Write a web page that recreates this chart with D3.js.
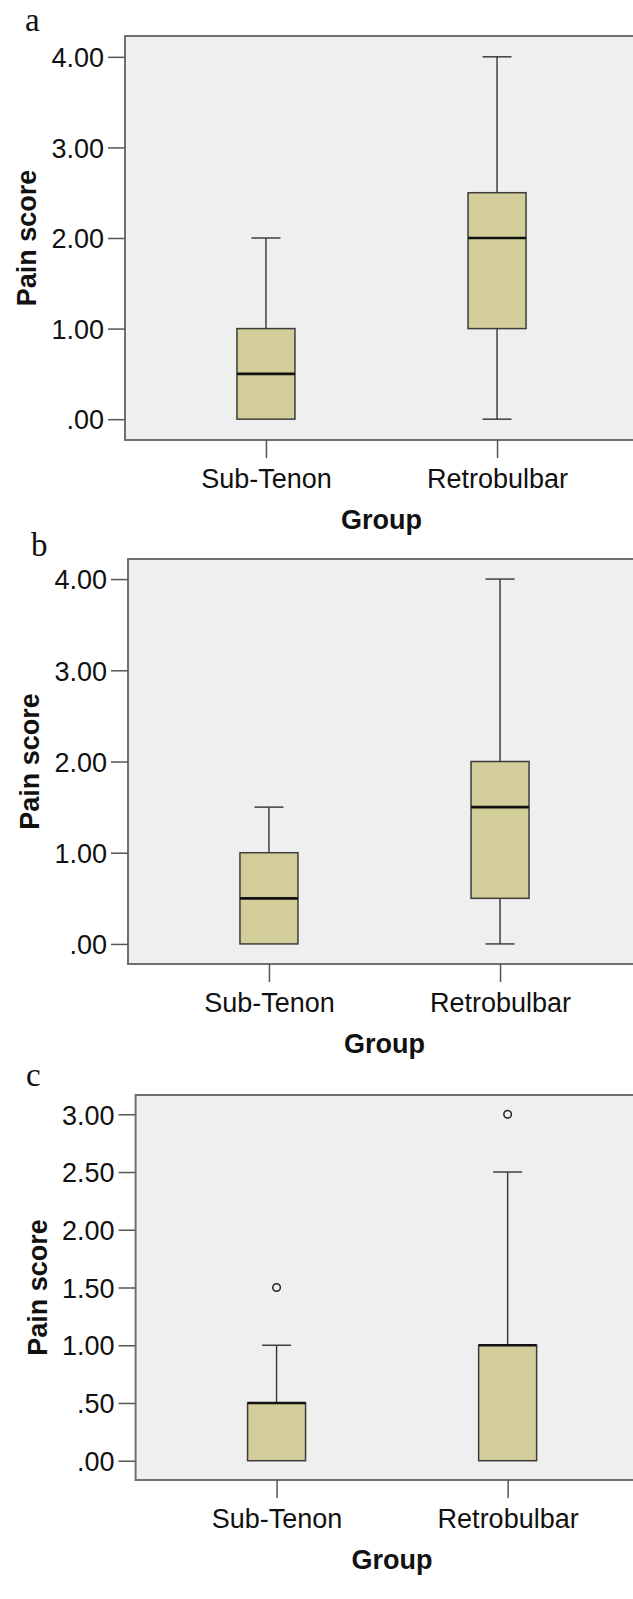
<!DOCTYPE html>
<html>
<head>
<meta charset="utf-8">
<script src="https://cdn.jsdelivr.net/npm/d3@7"></script>
<style>
  html, body { margin: 0; padding: 0; background: #ffffff; }
  svg { display: block; }
</style>
</head>
<body>
<svg id="chart" width="633" height="1599"></svg>
<script>
// ---------- DATA ----------
const categories = ["Sub-Tenon", "Retrobulbar"];

// Panel a
const aWhiskerLow  = [0, 0];
const aQ1          = [0, 1];
const aMedian      = [0.5, 2];
const aQ3          = [1, 2.5];
const aWhiskerHigh = [2, 4];
const aOutliers    = [[], []];
const aTickValues  = [0, 1, 2, 3, 4];
const aTickLabels  = [".00", "1.00", "2.00", "3.00", "4.00"];

// Panel b
const bWhiskerLow  = [0, 0];
const bQ1          = [0, 0.5];
const bMedian      = [0.5, 1.5];
const bQ3          = [1, 2];
const bWhiskerHigh = [1.5, 4];
const bOutliers    = [[], []];
const bTickValues  = [0, 1, 2, 3, 4];
const bTickLabels  = [".00", "1.00", "2.00", "3.00", "4.00"];

// Panel c
const cWhiskerLow  = [0, 0];
const cQ1          = [0, 0];
const cMedian      = [0.5, 1];
const cQ3          = [0.5, 1];
const cWhiskerHigh = [1, 2.5];
const cOutliers    = [[1.5], [3]];
const cTickValues  = [0, 0.5, 1, 1.5, 2, 2.5, 3];
const cTickLabels  = [".00", ".50", "1.00", "1.50", "2.00", "2.50", "3.00"];

const panelLetters = ["a", "b", "c"];
const yTitle = "Pain score";
const xTitle = "Group";

// ---------- LAYOUT ----------
const panels = [
  { letter: panelLetters[0], lo: aWhiskerLow, q1: aQ1, med: aMedian, q3: aQ3, hi: aWhiskerHigh, out: aOutliers,
    ticks: aTickValues, labels: aTickLabels, domain: [-0.23, 4.23],
    left: 125, top: 36, bottom: 440, letterX: 25, letterY: 31 },
  { letter: panelLetters[1], lo: bWhiskerLow, q1: bQ1, med: bMedian, q3: bQ3, hi: bWhiskerHigh, out: bOutliers,
    ticks: bTickValues, labels: bTickLabels, domain: [-0.22, 4.22],
    left: 128, top: 559, bottom: 964, letterX: 31, letterY: 556 },
  { letter: panelLetters[2], lo: cWhiskerLow, q1: cQ1, med: cMedian, q3: cQ3, hi: cWhiskerHigh, out: cOutliers,
    ticks: cTickValues, labels: cTickLabels, domain: [-0.167, 3.167],
    left: 135.6, top: 1095, bottom: 1480, letterX: 26, letterY: 1086 }
];

const svg = d3.select("#chart");
const FONT = "'Liberation Sans', Arial, Helvetica, sans-serif";
const SERIF = "'Liberation Serif', 'Times New Roman', serif";
const BOX_W = 58;
const CAP_W = 29;

panels.forEach(p => {
  const g = svg.append("g");
  const x = d3.scalePoint().domain(categories).range([p.left, p.left + 513]).padding(0.61);
  const y = d3.scaleLinear().domain(p.domain).range([p.bottom, p.top]);

  // plot background + frame
  g.append("rect")
    .attr("x", p.left).attr("y", p.top)
    .attr("width", 640 - p.left).attr("height", p.bottom - p.top)
    .attr("fill", "#efefef")
    .attr("stroke", "#707070").attr("stroke-width", 2);

  // y axis
  const yAxis = d3.axisLeft(y).tickValues(p.ticks)
    .tickFormat((d, i) => p.labels[i]).tickSize(17).tickPadding(4);
  const ya = g.append("g").attr("transform", `translate(${p.left},0)`).call(yAxis);
  ya.select(".domain").remove();
  ya.selectAll(".tick line").attr("stroke", "#555").attr("stroke-width", 1.5);
  ya.selectAll(".tick text").attr("font-family", FONT).attr("font-size", 27)
    .attr("fill", "#111").attr("dy", "0.36em");

  // x axis
  const xAxis = d3.axisBottom(x).tickSize(18).tickPadding(11);
  const xa = g.append("g").attr("transform", `translate(0,${p.bottom})`).call(xAxis);
  xa.select(".domain").remove();
  xa.selectAll(".tick line").attr("stroke", "#555").attr("stroke-width", 1.5);
  xa.selectAll(".tick text").attr("font-family", FONT).attr("font-size", 27)
    .attr("fill", "#111").attr("dy", "0.71em");

  const rows = categories.map((c, i) => ({
    c, lo: p.lo[i], q1: p.q1[i], med: p.med[i], q3: p.q3[i], hi: p.hi[i], out: p.out[i]
  }));

  const bx = g.append("g");
  rows.forEach(r => {
    const cx = x(r.c);
    if (r.hi > r.q3) {
      bx.append("line").attr("x1", cx).attr("x2", cx).attr("y1", y(r.q3)).attr("y2", y(r.hi))
        .attr("stroke", "#333").attr("stroke-width", 1.4);
      bx.append("line").attr("x1", cx - CAP_W / 2).attr("x2", cx + CAP_W / 2)
        .attr("y1", y(r.hi)).attr("y2", y(r.hi)).attr("stroke", "#333").attr("stroke-width", 1.4);
    }
    if (r.lo < r.q1) {
      bx.append("line").attr("x1", cx).attr("x2", cx).attr("y1", y(r.q1)).attr("y2", y(r.lo))
        .attr("stroke", "#333").attr("stroke-width", 1.4);
      bx.append("line").attr("x1", cx - CAP_W / 2).attr("x2", cx + CAP_W / 2)
        .attr("y1", y(r.lo)).attr("y2", y(r.lo)).attr("stroke", "#333").attr("stroke-width", 1.4);
    }
    bx.append("rect").attr("x", cx - BOX_W / 2).attr("y", y(r.q3))
      .attr("width", BOX_W).attr("height", y(r.q1) - y(r.q3))
      .attr("fill", "#d3ce99").attr("stroke", "#3c3c3c").attr("stroke-width", 1.5);
    bx.append("line").attr("x1", cx - BOX_W / 2).attr("x2", cx + BOX_W / 2)
      .attr("y1", y(r.med)).attr("y2", y(r.med)).attr("stroke", "#111").attr("stroke-width", 2.7);
    r.out.forEach(v => {
      bx.append("circle").attr("cx", cx).attr("cy", y(v)).attr("r", 3.8)
        .attr("fill", "none").attr("stroke", "#222").attr("stroke-width", 1.5);
    });
  });

  // y title
  const midY = (p.top + p.bottom) / 2;
  g.append("text")
    .attr("transform", `translate(${p.left - 89},${midY}) rotate(-90)`)
    .attr("text-anchor", "middle")
    .attr("font-family", FONT).attr("font-weight", "bold").attr("font-size", 27)
    .attr("fill", "#111").text(yTitle);

  // x title
  const midX = (x(categories[0]) + x(categories[1])) / 2;
  g.append("text")
    .attr("x", midX).attr("y", p.bottom + 89)
    .attr("text-anchor", "middle")
    .attr("font-family", FONT).attr("font-weight", "bold").attr("font-size", 27)
    .attr("fill", "#111").text(xTitle);

  // panel letter
  g.append("text")
    .attr("x", p.letterX).attr("y", p.letterY)
    .attr("font-family", SERIF).attr("font-size", 33)
    .attr("fill", "#111").text(p.letter);
});
</script>
</body>
</html>
